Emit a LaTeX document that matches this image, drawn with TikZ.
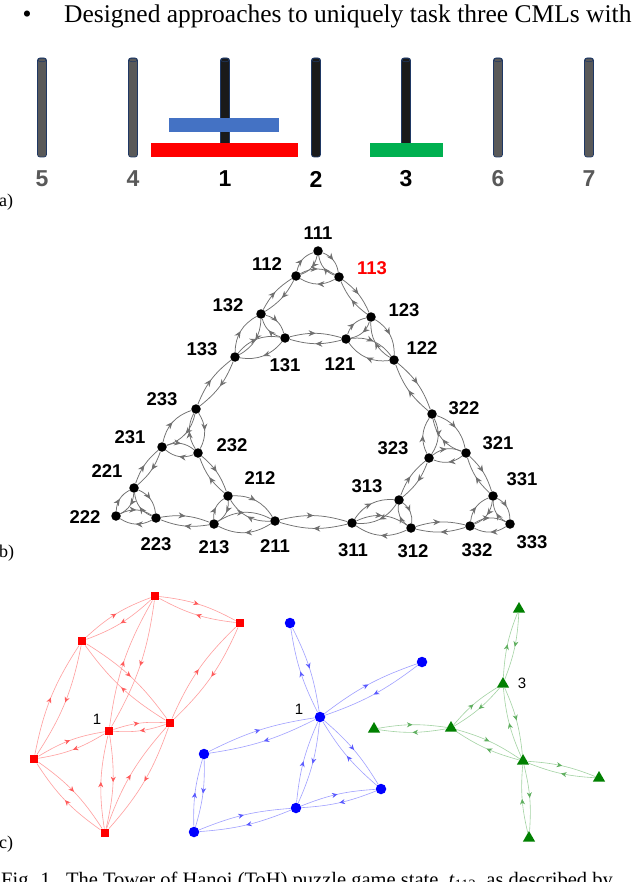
\documentclass[tikz,border=0pt]{standalone}
\usepackage{fontspec}
\setmainfont{Liberation Serif}
\newfontfamily\arialf{Liberation Sans}
\usetikzlibrary{decorations.markings,arrows.meta,shapes.geometric}
\definecolor{pegrim}{HTML}{1F3864}
\definecolor{peggray}{HTML}{595959}
\definecolor{pegblack}{HTML}{1A1A1A}
\definecolor{diskblue}{HTML}{4472C4}
\definecolor{diskgreen}{HTML}{00B050}
\definecolor{edgegray}{HTML}{707070}
\definecolor{lred}{HTML}{FF9E9E}
\definecolor{ared}{HTML}{FF5A5A}
\definecolor{lblue}{HTML}{A0A0FF}
\definecolor{ablue}{HTML}{5A5AFF}
\definecolor{lgreen}{HTML}{A3D3A3}
\definecolor{agreen}{HTML}{5FAF5F}
\definecolor{tgreen}{HTML}{008000}
\tikzset{
  pegbar/.style={draw=pegrim, line width=0.7pt, rounded corners=2.5pt},
  peglabel/.style={font=\arialf\bfseries\fontsize{23}{26}\selectfont, inner sep=0pt},
  hnode/.style={circle, fill=black, inner sep=0pt, minimum size=9.5pt},
  hlabel/.style={font=\arialf\bfseries\fontsize{18.5}{20}\selectfont, inner sep=0pt},
  midarrow/.style={postaction={decorate}, decoration={markings, mark=at position 0.5 with {\arrow{#1}}}},
  bedge/.style={draw=edgegray, line width=0.75pt, midarrow={Stealth[length=7pt,width=6pt]}},
  redge/.style={draw=lred, line width=0.6pt, midarrow={Stealth[length=5.5pt,width=5pt,color=ared]}},
  bluedge/.style={draw=lblue, line width=0.6pt, midarrow={Stealth[length=5.5pt,width=5pt,color=ablue]}},
  gedge/.style={draw=lgreen, line width=0.6pt, midarrow={Stealth[length=5.5pt,width=5pt,color=agreen]}},
  rsq/.style={rectangle, fill=red, inner sep=0pt, minimum size=8.5pt},
  bdot/.style={circle, fill=blue, inner sep=0pt, minimum size=10.5pt},
  gtri/.style={regular polygon, regular polygon sides=3, fill=tgreen, inner sep=0pt, minimum size=14pt},
  smalllabel/.style={font=\arialf\fontsize{15}{17}\selectfont, inner sep=0pt},
  partlabel/.style={font=\fontsize{18}{20}\selectfont, inner sep=0pt, anchor=base west}
}
\begin{document}
\begin{tikzpicture}[x=1pt,y=-1pt]
\clip (0,0) rectangle (640,882);
\fill[white] (0,0) rectangle (640,882);

% ---------- header text ----------
\node[font=\fontsize{25.5}{30}\selectfont, inner sep=0pt, anchor=base] (bullet) at (27,23) {•};
\node[font=\fontsize{25.5}{30}\selectfont, inner sep=0pt, anchor=base west] (head) at (64,23) {Designed approaches to uniquely task three CMLs with};

% ---------- a) pegs ----------
\foreach \x/\c/\b in {42/peggray/157, 133/peggray/157, 225/pegblack/150, 316/pegblack/157, 406/pegblack/150, 498/peggray/157, 589/peggray/157}{
  \draw[pegbar, fill=\c] (\x-4.5,58) rectangle (\x+4.5,\b);
  \draw[pegrim, line width=0.5pt] (\x,60) ellipse (4.2pt and 1.8pt);
}
\fill[diskblue] (169,118) rectangle (279,132);
\fill[red] (151,143) rectangle (298,157);
\fill[diskgreen] (370,143) rectangle (443,157);
\foreach \x/\t/\c in {42/5/peggray, 133/4/peggray, 225/1/black, 316/2/black, 406/3/black, 498/6/peggray, 589/7/peggray}{
  \node[peglabel, text=\c] (peg\t) at (\x,179) {\t};
}
\node[partlabel] (la) at (-1,207) {a)};

% ---------- b) Hanoi graph ----------
\foreach \n/\x/\y in {111/318/251, 112/296/276, 113/339/277, 132/261/314, 123/371/317,
  131/285/338, 121/346/339, 133/235/357, 122/394/360, 233/196/409, 231/162/447,
  232/198/453, 221/134/488, 212/228/496, 222/116/516, 223/156/518, 213/214/524,
  211/275/521, 311/352/523, 313/399/500, 312/411/528, 323/429/458, 322/432/414,
  321/466/453, 331/493/496, 332/470/526, 333/510/524}{
  \node[hnode] (n\n) at (\x,\y) {};
}
% small triangles
\foreach \a/\b in {111/112, 111/113, 112/113, 132/131, 132/133, 131/133, 123/121, 123/122, 121/122,
  233/231, 233/232, 231/232, 221/222, 221/223, 222/223, 212/213, 212/211, 213/211,
  322/323, 322/321, 323/321, 313/311, 313/312, 311/312, 331/332, 331/333, 332/333}{
  \draw[bedge] (n\a) to[bend left=30] (n\b);
  \draw[bedge] (n\b) to[bend left=30] (n\a);
}
% connecting edges
\foreach \a/\b in {112/132, 113/123, 131/121, 231/221, 232/212, 223/213, 323/313, 321/331, 312/332,
  133/233, 122/322, 211/311}{
  \draw[bedge] (n\a) to[bend left=15] (n\b);
  \draw[bedge] (n\b) to[bend left=15] (n\a);
}
\foreach \n/\x/\y in {111/318/233, 112/267/264, 132/228/305, 123/404/310, 133/202/349,
  131/285/365, 121/340/364, 122/422/348, 233/162/399, 231/130/437, 232/232/445,
  221/107/471, 212/260/478, 222/85/517, 223/156/544, 213/214/547, 211/275/546,
  311/353/550, 313/367/486, 312/413/551, 323/393/448, 322/464/408, 321/498/443,
  331/522/479, 332/477/550, 333/532/542}{
  \node[hlabel] (l\n) at (\x,\y) {\n};
}
\node[hlabel, text=red] (l113) at (372,268) {113};
\node[partlabel] (lb) at (-1,557) {b)};

% ---------- c) red graph ----------
\foreach \n/\x/\y in {T/155/596, R/240/623, UL/82/641, O/109/731, M/170/723, L/34/759, B/105/833}{
  \node[rsq] (r\n) at (\x,\y) {};
}
\foreach \a/\b in {T/R, T/UL, T/O, UL/M, UL/L, R/M, O/M, O/L, O/B, L/B, M/B}{
  \draw[redge] (r\a) to[bend left=11] (r\b);
  \draw[redge] (r\b) to[bend left=11] (r\a);
}
\node[smalllabel] (rlab) at (97,719) {1};

% ---------- c) blue graph ----------
\foreach \n/\x/\y in {T/290/623, R/422/662, O/320/717, L/204/754, BL/194/832, BM/296/808, RL/381/789}{
  \node[bdot] (b\n) at (\x,\y) {};
}
\foreach \a/\b in {O/T, O/R, O/L, O/BM, O/RL, L/BL, BL/BM, BM/RL}{
  \draw[bluedge] (b\a) to[bend left=9] (b\b);
  \draw[bluedge] (b\b) to[bend left=9] (b\a);
}
\node[smalllabel] (blab) at (299,709) {1};

% ---------- c) green graph ----------
\foreach \n/\x/\y in {T/519/609, Th/503/684, L/374/729, M/451/728, C/523/761, R/599/778, B/529/838}{
  \node[gtri] (g\n) at (\x,\y) {};
}
\foreach \a/\b in {T/Th, Th/M, Th/C, M/L, M/C, C/R, C/B}{
  \draw[gedge] (g\a) to[bend left=9] (g\b);
  \draw[gedge] (g\b) to[bend left=9] (g\a);
}
\node[smalllabel] (glab) at (522,683) {3};
\node[partlabel] (lc) at (-1,848) {c)};

% ---------- caption ----------
\node[font=\fontsize{20.5}{24}\selectfont, inner sep=0pt, anchor=base west] (cap) at (1,886)
  {Fig. 1.\ \ The Tower of Hanoi (ToH) puzzle game state, \textit{t}\textsubscript{112}, as described by};
\end{tikzpicture}
\end{document}
